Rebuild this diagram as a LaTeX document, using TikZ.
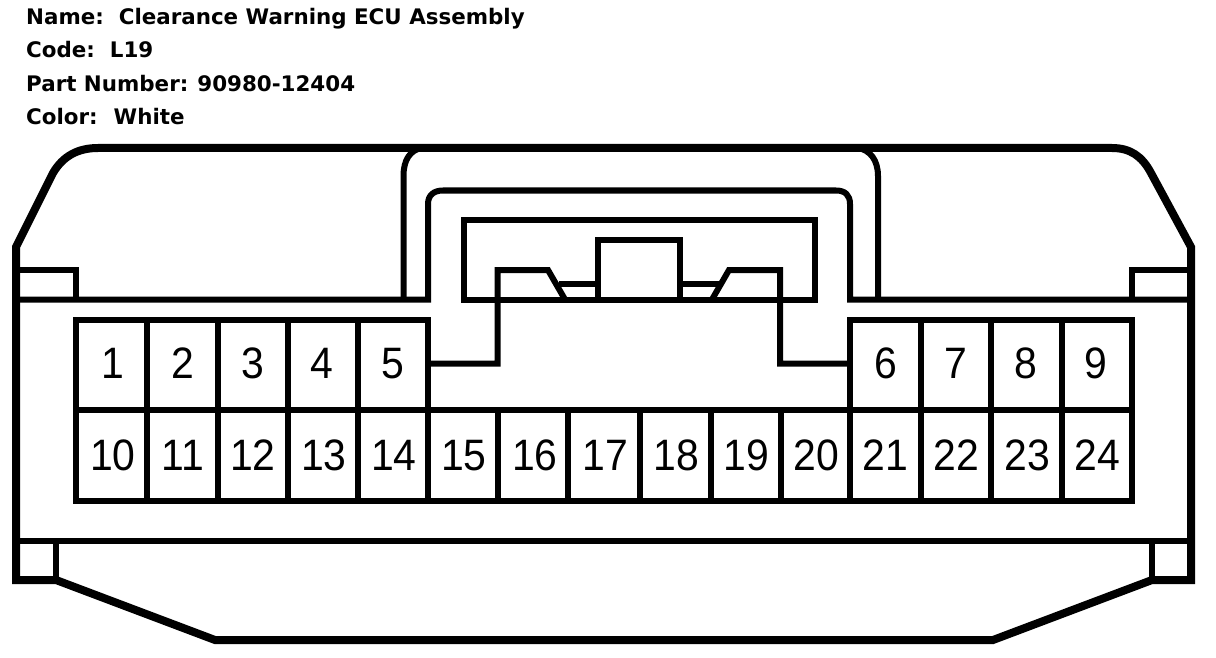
\documentclass[tikz,border=0pt]{standalone}
\usepackage{fontspec}
\setmainfont{Liberation Sans}
\newfontfamily\headfont{DejaVu Sans}[BoldFont={DejaVu Sans Bold}]
\usetikzlibrary{positioning}
\tikzset{
  thick line/.style={line width=8pt,line join=miter},
  thin line/.style={line width=6pt,line join=miter},
  grid line/.style={line width=6pt,line join=miter,line cap=rect},
  pin label/.style={anchor=base,inner sep=0pt,xscale=0.93,font=\fontsize{44}{44}\selectfont},
  head label/.style={anchor=base west,inner sep=0pt,font=\headfont\bfseries\fontsize{21.4}{24}\selectfont}
}
\begin{document}
\begin{tikzpicture}[x=1pt,y=-1pt]
   \useasboundingbox (0,0) rectangle (1216,658);
   % header
   \node [head label] (name) at (26,25) {Name:\ \ Clearance Warning ECU Assembly};
   \node [head label] (code) at (26,58) {Code:\ \ L19};
   \node [head label] (part) at (26,92) {Part Number:\hspace{9pt}90980-12404};
   \node [head label] (color) at (26,125) {Color:\hspace{16pt}White};
   % housing
   \draw [thick line] (16,580) -- (16,247) -- (53,173)
      .. controls (63,156) and (78,148) .. (98,148) -- (1112,148)
      .. controls (1130,148) and (1142,156) .. (1151,173)
      -- (1191,247) -- (1191,580) -- (1152,580) -- (993,640) -- (215,640) -- (56,580) -- cycle;
   \draw [thin line] (16,299.5) -- (428,299.5) -- (428,204)
      .. controls (428,195) and (434,190.5) .. (443,190.5) -- (836,190.5)
      .. controls (845,190.5) and (850,195) .. (850,204) -- (850,299.5) -- (1191,299.5);
   \draw [thin line] (403.5,299.5) -- (403.5,176)
      .. controls (403.5,160) and (410,150) .. (422,148);
   \draw [thin line] (878,299.5) -- (878,176)
      .. controls (878,160) and (870,150) .. (858,148);
   \draw [thin line] (16,541) -- (1191,541);
   \draw [thin line] (16,269.5) -- (76,269.5) -- (76,299.5);
   \draw [thin line] (1191,269.5) -- (1132,269.5) -- (1132,299.5);
   \draw [thin line] (56,541) -- (56,580);
   \draw [thin line] (1152,541) -- (1152,580);
   % latch
   \draw [thin line] (464,299.5) rectangle (814.5,219.5);
   \draw [thin line] (597.5,299.5) -- (597.5,239.5) -- (680,239.5) -- (680,299.5);
   \draw [thin line] (428,363.5) -- (497.5,363.5) -- (497.5,270) -- (548,270) -- (565,299.5);
   \draw [thin line] (850,363.5) -- (780,363.5) -- (780,270) -- (729,270) -- (712,299.5);
   \draw [thin line] (559,284) -- (597.5,284);
   \draw [thin line] (680,284) -- (720,284);
   % cavities
   \draw [grid line] (428,319.5) -- (76,319.5) -- (76,500.5) -- (1132,500.5) -- (1132,319.5) -- (850,319.5);
   \draw [thin line] (76,410) -- (1132,410);
   \draw [thin line] (428,319.5) -- (428,500.5);
   \draw [thin line] (850,319.5) -- (850,500.5);
   \foreach \x in {147,218,288,358,921,991,1062}
      \draw [thin line] (\x,319.5) -- (\x,500.5);
   \foreach \x in {498,568,640,711,781}
      \draw [thin line] (\x,410) -- (\x,500.5);
   \foreach \n/\x in {1/113,2/183,3/253,4/322,5/393,6/886,7/956,8/1026,9/1096}
      \node [pin label] (pin\n) at (\x,378) {\n};
   \foreach \n/\x in {10/113,11/183,12/253,13/324,14/394,15/464,16/535,17/605,18/676,19/746,20/816,21/885,22/956,23/1027,24/1097}
      \node [pin label] (pin\n) at (\x,470) {\n};
\end{tikzpicture}
\end{document}
